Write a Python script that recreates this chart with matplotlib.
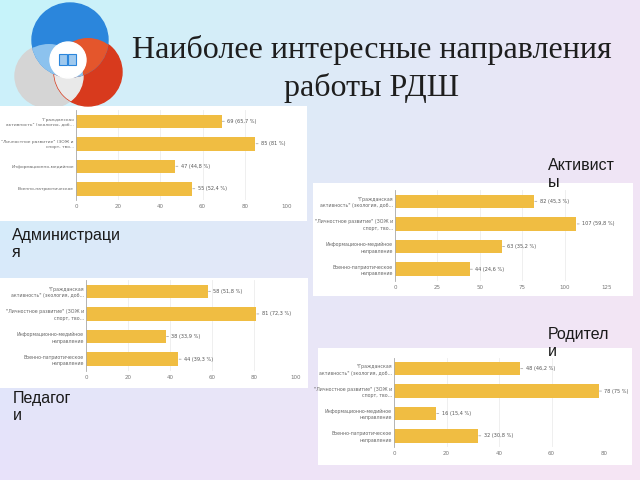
import numpy as np
import matplotlib
matplotlib.use("Agg")
import matplotlib.pyplot as plt
from matplotlib.patches import Rectangle, Ellipse

# ---- data ----
title_line1 = "Наиболее интересные направления"
title_line2 = "работы РДШ"

cats_short = ['"Гражданская\nактивность" (экология, доб…',
              '"Личностное развитие" (ЗОЖ и\nспорт, тво…',
              'Информационно-медийное',
              'Военно-патриотическое']
cats_long = ['"Гражданская\nактивность" (экология, доб…',
             '"Личностное развитие" (ЗОЖ и\nспорт, тво…',
             'Информационно-медийное\nнаправление',
             'Военно-патриотическое\nнаправление']

admin_values = [69, 85, 47, 55]
admin_pct = ['65,7', '81', '44,8', '52,4']
activists_values = [82, 107, 63, 44]
activists_pct = ['45,3', '59,8', '35,2', '24,6']
teachers_values = [58, 81, 38, 44]
teachers_pct = ['51,8', '72,3', '33,9', '39,3']
parents_values = [48, 78, 16, 32]
parents_pct = ['46,2', '75', '15,4', '30,8']

admin_ticks = [0, 20, 40, 60, 80, 100]
activists_ticks = [0, 25, 50, 75, 100, 125]
teachers_ticks = [0, 20, 40, 60, 80, 100]
parents_ticks = [0, 20, 40, 60, 80]

group_names = ["Администраци\nя", "Активист\nы", "Педагог\nи", "Родител\nи"]

W, H = 640, 480
fig = plt.figure(figsize=(6.4, 4.8), dpi=100)

def fbox(x0, y0, x1, y1):
    return [x0 / W, 1 - y1 / H, (x1 - x0) / W, (y1 - y0) / H]

# background
bg = fig.add_axes([0, 0, 1, 1])
bg.set_xlim(0, W); bg.set_ylim(H, 0); bg.axis('off')
tl = np.array([198, 244, 250]); tr = np.array([238, 228, 246])
bl = np.array([232, 226, 250]); br = np.array([246, 230, 244])
u = np.linspace(0, 1, 64)[None, :, None]
v = np.linspace(0, 1, 48)[:, None, None]
img = (tl * (1 - u) * (1 - v) + tr * u * (1 - v) + bl * (1 - u) * v + br * u * v) / 255
bg.imshow(img, extent=[0, W, H, 0], aspect='auto', zorder=0)

# logo
blue = Ellipse((70, 40), 76, 74, color='#2b86dc', zorder=2)
grey = Ellipse((49, 76), 68, 64, color='#d5d5d5', zorder=1)
red = Ellipse((88, 72), 68, 68, color='#d83a1d', zorder=1.5)
for p in (grey, red, blue):
    bg.add_patch(p)
ov1 = Ellipse((70, 40), 76, 74, color='#8cc2ee', zorder=2.1)
bg.add_patch(ov1); ov1.set_clip_path(grey)
ov2 = Ellipse((49, 76), 68, 64, color='#e9e9e9', zorder=1.6)
bg.add_patch(ov2); ov2.set_clip_path(red)
ov3 = Ellipse((70, 40), 76, 74, color='#e4562c', zorder=2.05)
bg.add_patch(ov3); ov3.set_clip_path(red)
bg.add_patch(Ellipse((68, 60), 36, 36, color='white', zorder=3))
bg.add_patch(Rectangle((59, 54), 8, 11, facecolor='#9fc9ee', edgecolor='#2b86dc', lw=0.8, zorder=4))
bg.add_patch(Rectangle((68, 54), 8, 11, facecolor='#9fc9ee', edgecolor='#2b86dc', lw=0.8, zorder=4))

# title
bg.text(372, 50, title_line1, fontsize=23, family='Liberation Serif', color='#1e1e1e',
        ha='center', va='center', zorder=5)
bg.text(372, 88, title_line2, fontsize=23, family='Liberation Serif', color='#1e1e1e',
        ha='center', va='center', zorder=5)

# white panel boxes
for (x0, y0, x1, y1) in [(0, 106, 307, 221), (313, 183, 633, 296),
                         (0, 278, 308, 388), (318, 348, 632, 465)]:
    bg.add_patch(Rectangle((x0, y0), x1 - x0, y1 - y0, facecolor='white',
                           edgecolor='none', zorder=1))

# group labels
lab_kw = dict(fontsize=11.5, family='Liberation Sans', color='#1a1a1a', va='top',
              ha='left', linespacing=1.15, zorder=6)
bg.text(12, 228, group_names[0], **lab_kw)
bg.text(548, 158, group_names[1], **lab_kw)
bg.text(13, 391, group_names[2], **lab_kw)
bg.text(548, 327, group_names[3], **lab_kw)

BAR = '#f0bd42'

def panel(rect, values, pcts, ticks, cats, catsize=3.4):
    ax = fig.add_axes(fbox(*rect))
    ax.set_facecolor('none')
    y = np.arange(len(values))
    ax.barh(y, values, height=0.6, color=BAR, zorder=2)
    ax.set_ylim(len(values) - 0.5, -0.5)
    ax.set_xlim(ticks[0], ticks[-1])
    ax.set_xticks(ticks)
    ax.set_xticklabels([str(t) for t in ticks], fontsize=4.0, color='#777')
    ax.set_yticks(y)
    ax.set_yticklabels(cats, fontsize=catsize, color='#666', linespacing=1.35)
    ax.tick_params(axis='y', length=0, pad=1.5)
    ax.tick_params(axis='x', length=0, pad=3)
    ax.grid(axis='x', color='#ececec', lw=0.6, zorder=0)
    for s in ('top', 'right', 'bottom'):
        ax.spines[s].set_visible(False)
    ax.spines['left'].set_color('#aaaaaa')
    ax.spines['left'].set_linewidth(0.6)
    for yi, v, p in zip(y, values, pcts):
        ax.annotate(f"{v} ({p} %)", xy=(v, yi), xytext=(4, 0), textcoords='offset points',
                    fontsize=3.6, color='#555', ha='left', va='center',
                    arrowprops=dict(arrowstyle='-', color='#999', lw=0.5,
                                    shrinkA=0, shrinkB=0.5))
    return ax

panel((76, 110, 287, 200), admin_values, admin_pct, admin_ticks, cats_short, catsize=3.15)
panel((395, 190, 607, 280.5), activists_values, activists_pct, activists_ticks, cats_long)
panel((86, 280, 296, 370.5), teachers_values, teachers_pct, teachers_ticks, cats_long)
panel((394, 357.5, 604, 447), parents_values, parents_pct, parents_ticks, cats_long)

fig.savefig("out.png", dpi=100)
